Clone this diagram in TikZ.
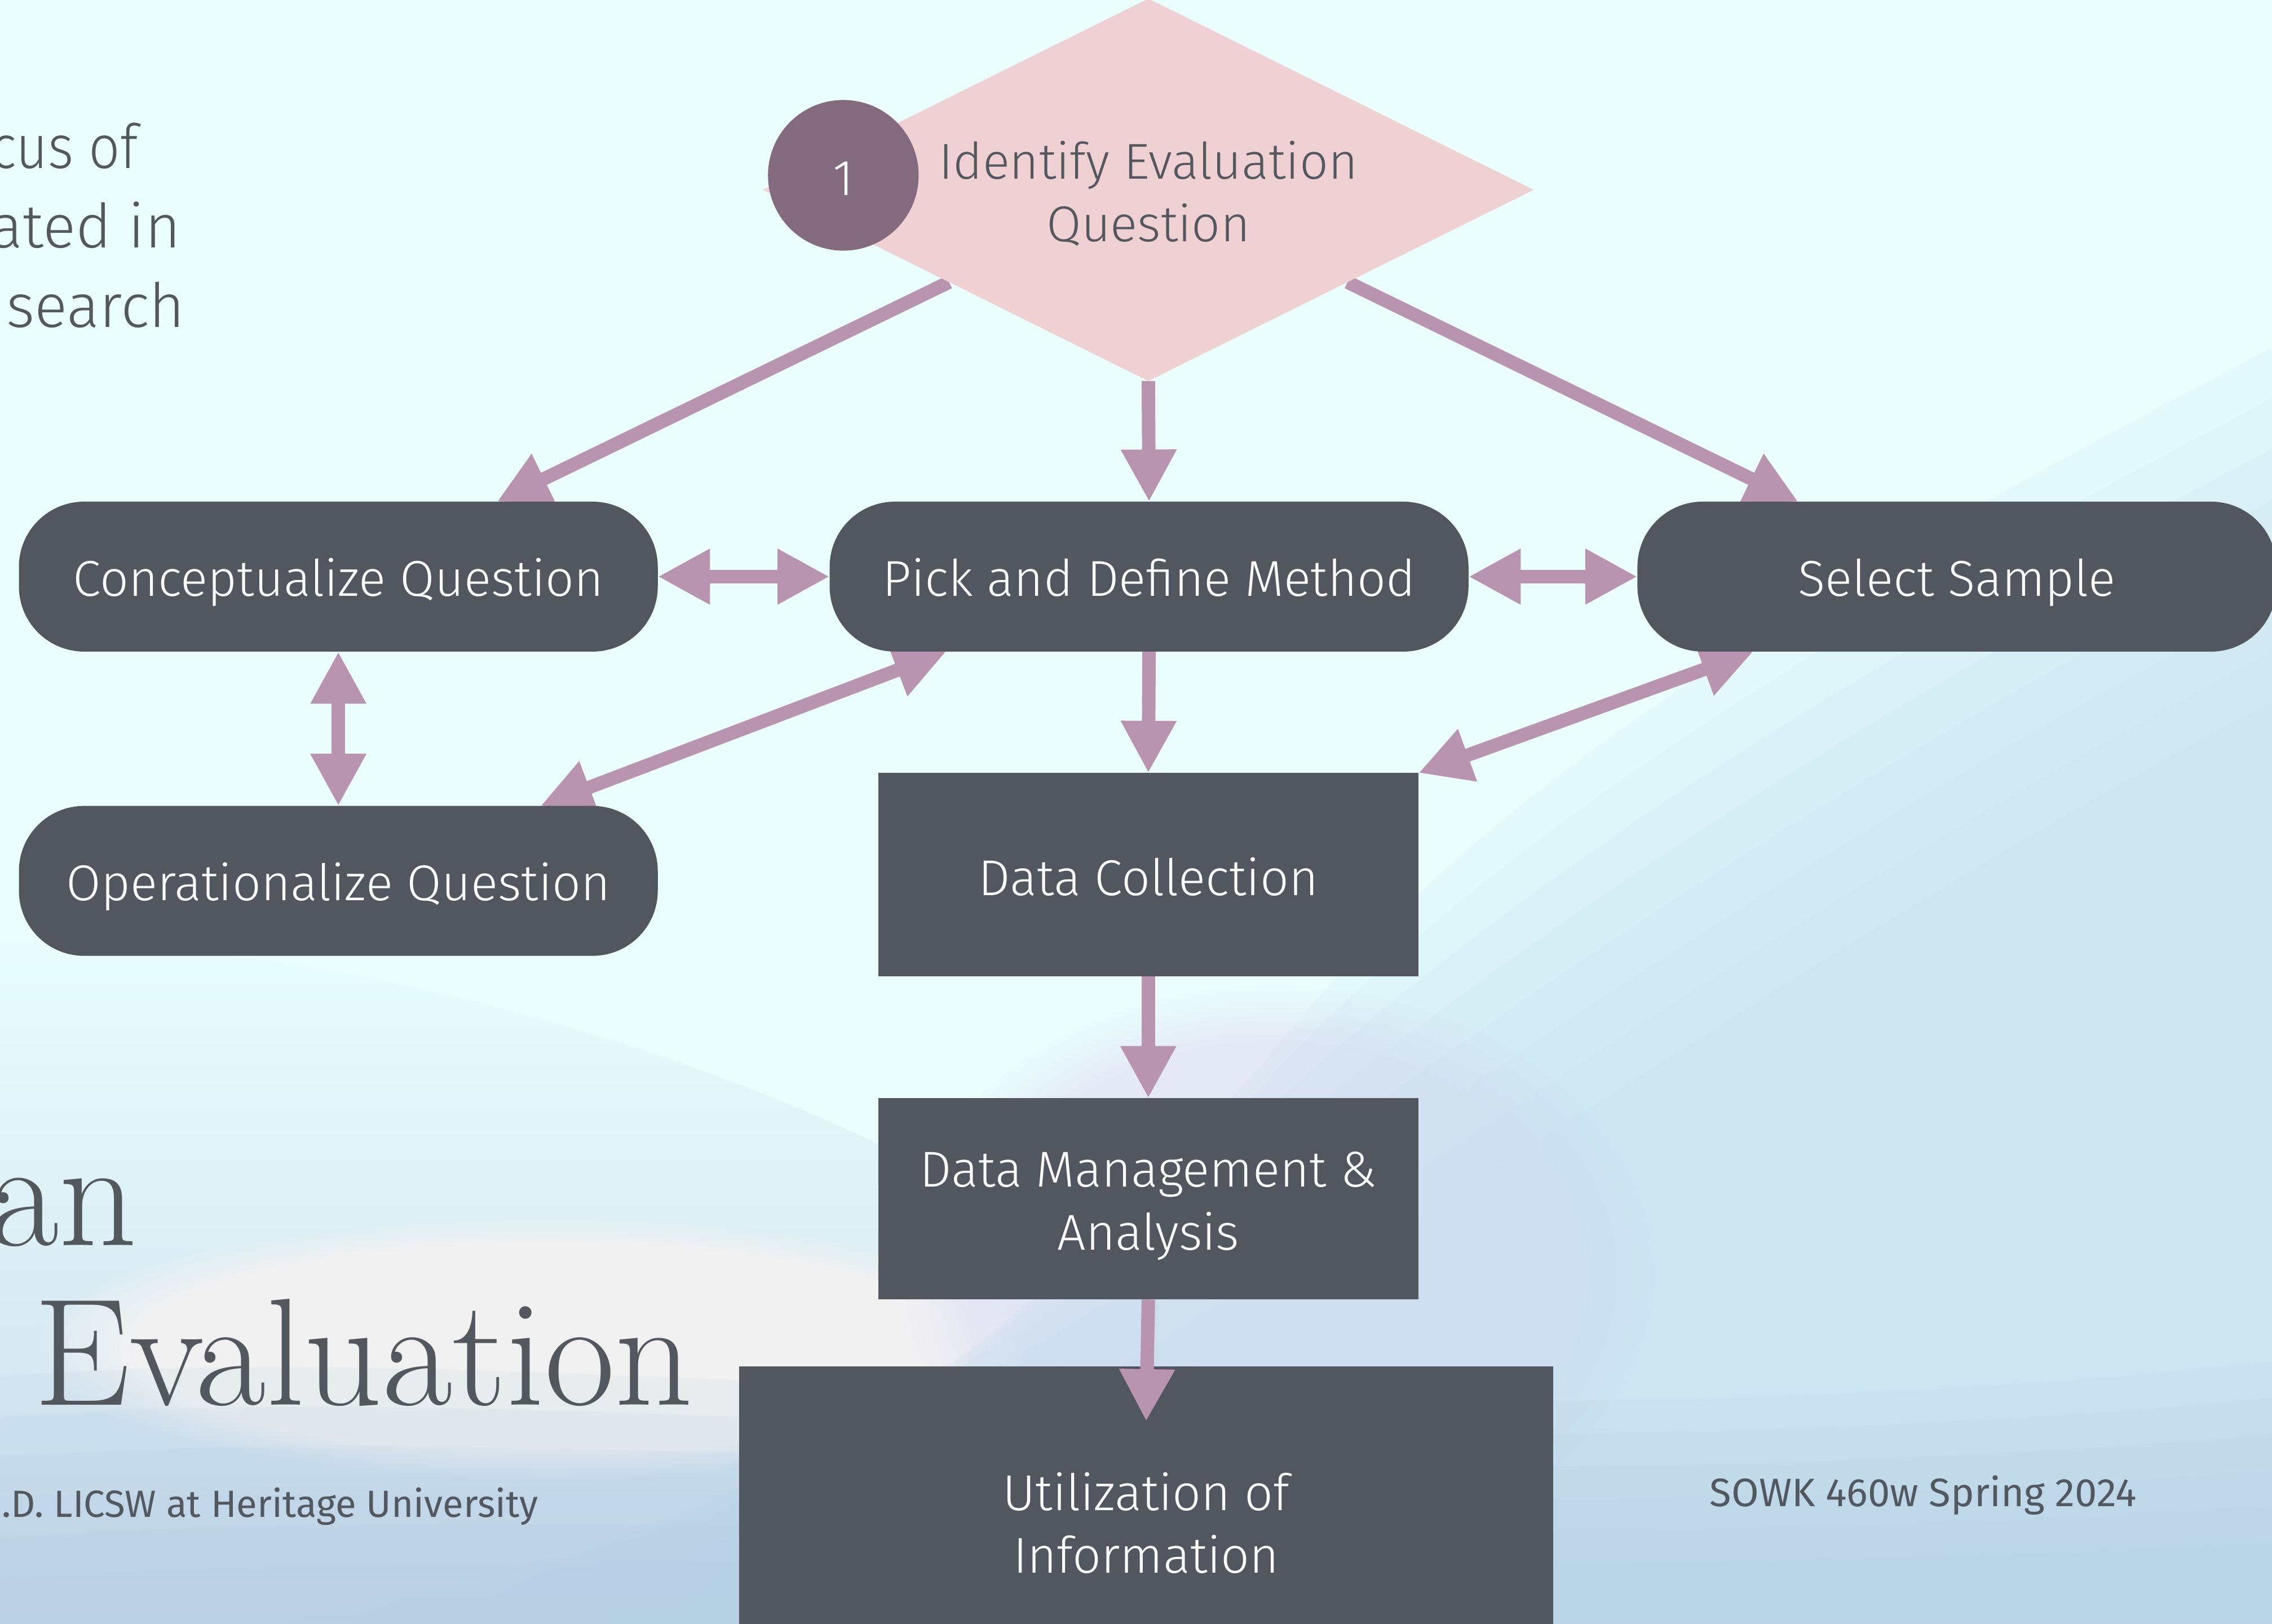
\documentclass[tikz,border=0pt]{standalone}
\usepackage{fontspec}
\usetikzlibrary{arrows.meta,shapes.geometric,calc,fadings}
\IfFontExistsTF{Fira Sans Light}{\setsansfont{Fira Sans Light}\newfontfamily\narrowfont{Fira Sans Light}[FakeStretch=0.9]}{\setsansfont{Fira Sans}\newfontfamily\narrowfont{Fira Sans}[FakeStretch=0.9]}
\newfontfamily\footfont{Fira Sans}
\definecolor{bgtop}{HTML}{E9FEFD}
\definecolor{bglow}{HTML}{C4DDEF}
\definecolor{bgbot}{HTML}{AFC9E1}
\definecolor{bgleft}{HTML}{CCDCEC}
\definecolor{bglav}{HTML}{E4E4F4}
\definecolor{bggray}{HTML}{F1F1F2}
\definecolor{boxc}{HTML}{52575F}
\definecolor{arrc}{HTML}{B994B0}
\definecolor{diac}{HTML}{EFD0D3}
\definecolor{circc}{HTML}{836A7E}
\definecolor{txtc}{HTML}{53585F}
\tikzfading[name=fadeup, top color=transparent!100, bottom color=transparent!0]
\pgfdeclarelayer{bgl}
\pgfdeclarelayer{arrl}
\pgfdeclarelayer{topl}
\pgfsetlayers{bgl,arrl,main,topl}
\newcommand{\nodefont}{\sffamily\fontsize{19.8}{24.75}\selectfont}
\tikzset{
  pbox/.style={fill=boxc, rounded corners=0.9cm, minimum width=8.82cm, minimum height=2.07cm,
    inner sep=0pt, outer sep=0pt, text=white, font=\nodefont, text height=17.4pt, text depth=2pt},
  sbox/.style={fill=boxc, inner sep=0pt, outer sep=0pt, text=white, font=\nodefont, align=center},
  tipx/.tip={Triangle[width=0.72cm,length=0.72cm]},
  conn/.style={draw=arrc, line width=0.186cm, -tipx},
  dconn/.style={draw=arrc, line width=0.186cm, tipx-tipx},
  sidetxt/.style={inner sep=0pt, text=txtc},
}
\begin{document}
\begin{tikzpicture}[x=0.02cm, y=-0.02cm]
\useasboundingbox (0,0) rectangle (1568,1120.6);
% background
\begin{pgfonlayer}{bgl}
  \fill[bgtop] (0,0) rectangle (1568,1120.6);
  % soft blue-grey on the lower left
  \fill[bgleft, path fading=fadeup]
    (0,650) .. controls (300,650) and (600,760) .. (800,900) -- (800,1130) -- (0,1130) -- cycle;
  % whitish glow behind the title
  \fill[bggray, path fading=circle with fuzzy edge 20 percent]
    (380,930) ellipse (360 and 90);
  % lavender haze in the middle
  \fill[bglav, opacity=0.8, path fading=circle with fuzzy edge 20 percent]
    (880,880) ellipse (260 and 200);
  % blue region lower right
  \foreach \i in {0,...,7}{
    \fill[bglow, opacity=0.14]
      (1568,{240+35*\i}) .. controls (1300,{380+35*\i}) and (1050,{520+40*\i}) .. ({900-20*\i},{700+40*\i})
      .. controls ({750-30*\i},{880+30*\i}) and ({600-40*\i},{1000+10*\i}) .. ({450-40*\i},1130)
      -- (1568,1130) -- cycle;
  }
  % bottom band
  \foreach \i in {0,...,5}{
    \fill[bgbot, opacity=0.12]
      (0,{950+28*\i}) .. controls (400,{920+28*\i}) and (900,{1010+18*\i}) .. (1568,{940+25*\i})
      -- (1568,1130) -- (0,1130) -- cycle;
  }
\end{pgfonlayer}

% side texts (title slide behind)
\node[sidetxt, anchor=base east, font=\narrowfont\fontsize{24}{30}\selectfont] (t1) at (95.5,116) {cus of};
\node[sidetxt, anchor=base east, font=\sffamily\fontsize{24}{30}\selectfont] (t2) at (125,171) {ated in};
\node[sidetxt, anchor=base east, font=\sffamily\fontsize{24}{30}\selectfont] (t3) at (128,226) {search};
\node[sidetxt, anchor=base east, font=\rmfamily\fontsize{60}{66}\selectfont] (t4) at (95,859.6) {an};
\node[sidetxt, anchor=base west, font=\rmfamily\fontsize{60}{66}\selectfont] (t5) at (23,969.8) {Evaluation};
\node[sidetxt, anchor=base east, font=\footfont\fontsize{14.9}{18}\selectfont] (t6) at (371.7,1047) {.D. LICSW at Heritage University};
\node[sidetxt, anchor=base west, font=\footfont\fontsize{15.6}{18}\selectfont] (t7) at (1179.7,1039.7) {SOWK 460w Spring 2024};

% nodes
\node[diamond, aspect=2, fill=diac, minimum width=10.64cm, minimum height=5.28cm, inner sep=0pt, outer sep=0pt,
      text=txtc, font=\nodefont, align=center, text height=42pt, text depth=1.2pt] (idq) at (792.5,131) {Identify Evaluation\\Question};
\node[circle, fill=circc, minimum size=2.08cm, inner sep=0pt, text=white, font=\nodefont,
      text height=17.4pt, text depth=1.6pt] (one) at (582,121) {1};
\node[pbox] (conc) at (233.5,398) {Conceptualize Question};
\node[pbox] (pick) at (793,398) {Pick and Define Method};
\node[pbox] (sel) at (1350.5,398) {Select Sample};
\node[pbox] (oper) at (233.5,608) {Operationalize Question};
\node[sbox, minimum width=7.46cm, minimum height=2.81cm, text height=18pt, text depth=1.6pt] (dc) at (792.5,603.75) {Data Collection};
\node[sbox, minimum width=7.46cm, minimum height=2.78cm, text height=42pt, text depth=1.8pt] (mgmt) at (792.5,827.5) {Data Management \&\\Analysis};
\node[sbox, minimum width=11.24cm, minimum height=4.4cm, text height=40pt, text depth=2.6pt] (util) at (791,1053) {Utilization of\\Information};

% connectors
\begin{pgfonlayer}{arrl}
  \draw[conn] ($(idq.west)!0.483!(idq.south)$) -- ($(conc.north)+(109.5,0)$);
  \draw[conn] ($(idq.east)!0.483!(idq.south)$) -- ($(sel.north)+(-109.5,0)$);
  \draw[conn] (idq.south) -- (pick.north);
  \draw[dconn] (conc.east) -- (pick.west);
  \draw[dconn] (pick.east) -- (sel.west);
  \draw[dconn] (conc.south) -- (oper.north);
  \draw[conn] (pick.south) -- (dc.north);
  \draw[dconn] ($(pick.south)+(-140,0)$) -- ($(oper.north)+(139.5,0)$);
  \draw[dconn] ($(sel.south)+(-140.5,0)$) -- (dc.north east);
  \draw[conn] (dc.south) -- (mgmt.north);
\end{pgfonlayer}
\begin{pgfonlayer}{topl}
  \draw[conn] (mgmt.south) -- ($(util.north)+(0,38)$);
\end{pgfonlayer}
\end{tikzpicture}
\end{document}
